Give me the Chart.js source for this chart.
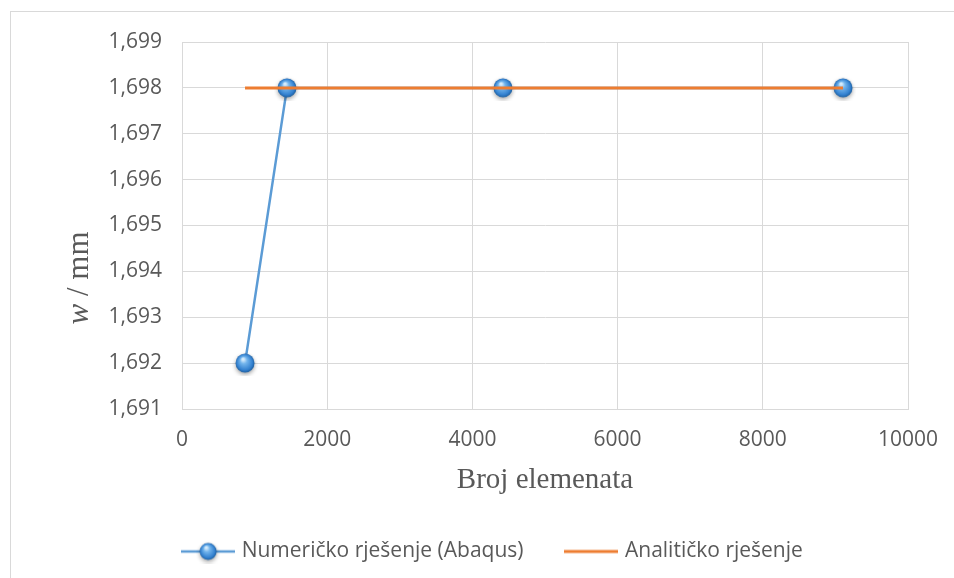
<!DOCTYPE html>
<html>
<head>
<meta charset="utf-8">
<script src="https://cdn.jsdelivr.net/npm/chart.js@4.4.1/dist/chart.umd.min.js"></script>
<style>
  html, body { margin: 0; padding: 0; background: #fff; }
  #wrap { width: 954px; height: 578px; }
</style>
</head>
<body>
<div id="wrap"><canvas id="deflChart" width="954" height="578"></canvas></div>
<script>
// data
const numElements = [868, 1446, 4421, 9105];
const numericW = [1.692, 1.698, 1.698, 1.698];
const analyticX = [868, 9105];
const analyticW = [1.698, 1.698];
const seriesNames = ['Numeričko rješenje (Abaqus)', 'Analitičko rješenje'];
const xTitle = 'Broj elemenata';

const tickFont = { family: 'Open Sans', size: 21 };
const gridColor = '#d9d9d9';
const textColor = '#595959';

// 3D looking sphere marker like the one in Excel
function makeSphere(r, w, h) {
    const c = document.createElement('canvas');
    c.width = w; c.height = h;
    const g = c.getContext('2d');
    const cx = w / 2, cy = h / 2;
    g.save();
    g.shadowColor = 'rgba(0,0,0,0.35)';
    g.shadowBlur = 4;
    g.shadowOffsetY = 2;
    const grad = g.createRadialGradient(cx - 2, cy - 4, 1, cx, cy, r);
    grad.addColorStop(0, '#d4ebfc');
    grad.addColorStop(0.3, '#72b4ec');
    grad.addColorStop(0.8, '#3381d0');
    grad.addColorStop(1, '#1e5f9f');
    g.fillStyle = grad;
    g.beginPath();
    g.arc(cx, cy, r, 0, Math.PI * 2);
    g.fill();
    g.restore();
    return c;
}

const sphere = makeSphere(9.5, 26, 26);

function makeLegendIcon() {
    const c = document.createElement('canvas');
    c.width = 54; c.height = 24;
    const g = c.getContext('2d');
    g.strokeStyle = '#5b9bd5';
    g.lineWidth = 2.5;
    g.beginPath();
    g.moveTo(0, 12); g.lineTo(54, 12);
    g.stroke();
    g.drawImage(makeSphere(8.5, 24, 24), 15, 0);
    return c;
}

function makeLineIcon(color) {
    const c = document.createElement('canvas');
    c.width = 54; c.height = 24;
    const g = c.getContext('2d');
    g.strokeStyle = color;
    g.lineWidth = 3;
    g.beginPath();
    g.moveTo(0, 12); g.lineTo(54, 12);
    g.stroke();
    return c;
}

const legendIcons = [makeLegendIcon(), makeLineIcon('#ed7d31')];

// outer frame, legend nudge, y title with italic w
const decorations = {
    id: 'decorations',
    afterLayout(chart) {
        // Excel centres the legend a bit to the right of the canvas centre
        chart.legend.left += 40;
        chart.legend.right += 40;
    },
    beforeDraw(chart) {
        const ctx = chart.ctx;
        ctx.save();
        ctx.strokeStyle = gridColor;
        ctx.lineWidth = 1;
        ctx.strokeRect(10.5, 11.5, 960, 600);
        ctx.restore();
    },
    afterDraw(chart) {
        const ctx = chart.ctx;
        ctx.save();
        ctx.translate(80, 278);
        ctx.rotate(-Math.PI / 2);
        ctx.fillStyle = textColor;
        ctx.textBaseline = 'middle';
        const italic = 'italic 31px "Liberation Serif"';
        const normal = '31px "Liberation Serif"';
        ctx.font = italic;
        const w1 = ctx.measureText('w').width;
        ctx.font = normal;
        const w2 = ctx.measureText(' / mm').width;
        let x = -(w1 + w2) / 2;
        ctx.font = italic;
        ctx.fillText('w', x, 0);
        ctx.font = normal;
        ctx.fillText(' / mm', x + w1, 0);
        ctx.restore();
    }
};

const ctx = document.getElementById('deflChart').getContext('2d');
new Chart(ctx, {
    type: 'scatter',
    data: {
        datasets: [{
            label: seriesNames[0],
            data: numElements.map((x, i) => ({ x: x, y: numericW[i] })),
            showLine: true,
            borderColor: '#5b9bd5',
            backgroundColor: '#5b9bd5',
            borderWidth: 2.5,
            pointStyle: sphere,
            pointRadius: 10,
            pointHoverRadius: 10,
            order: 1
        }, {
            label: seriesNames[1],
            data: analyticX.map((x, i) => ({ x: x, y: analyticW[i] })),
            showLine: true,
            borderColor: '#ed7d31',
            backgroundColor: '#ed7d31',
            borderWidth: 3,
            pointRadius: 0,
            pointHoverRadius: 0,
            order: 0
        }]
    },
    options: {
        responsive: false,
        animation: false,
        events: [],
        layout: { padding: { top: 42, right: 46, bottom: 6, left: 0 } },
        plugins: {
            tooltip: { enabled: false },
            legend: {
                position: 'bottom',
                labels: {
                    usePointStyle: true,
                    pointStyleWidth: 46,
                    padding: 45,
                    color: textColor,
                    font: { family: 'Open Sans', size: 21 },
                    generateLabels: (chart) => chart.data.datasets.map((ds, i) => ({
                        text: ds.label,
                        pointStyle: legendIcons[i],
                        fillStyle: 'transparent',
                        strokeStyle: 'transparent',
                        lineWidth: 0,
                        fontColor: textColor,
                        datasetIndex: i
                    }))
                }
            }
        },
        scales: {
            x: {
                type: 'linear',
                min: 0,
                max: 10000,
                ticks: {
                    stepSize: 2000,
                    color: textColor,
                    font: tickFont,
                    padding: 18,
                    callback: (v) => String(v)
                },
                grid: { color: gridColor, drawTicks: false },
                border: { color: gridColor },
                title: {
                    display: true,
                    text: xTitle,
                    color: textColor,
                    font: { family: 'Liberation Serif', size: 29, lineHeight: 1.05 },
                    padding: { top: 8, bottom: 0 }
                },
                afterFit: (scale) => {
                    scale.height = 87;
                    // keep the tick padding from eating into the plot width
                    scale.paddingLeft = 0;
                    scale.paddingRight = 0;
                }
            },
            y: {
                min: 1.691,
                max: 1.699,
                ticks: {
                    stepSize: 0.001,
                    color: textColor,
                    font: tickFont,
                    padding: 20,
                    callback: (v) => v.toFixed(3).replace('.', ',')
                },
                grid: { color: gridColor, drawTicks: false },
                border: { color: gridColor },
                afterFit: (scale) => { scale.width = 182; }
            }
        }
    },
    plugins: [decorations]
});
</script>
</body>
</html>
